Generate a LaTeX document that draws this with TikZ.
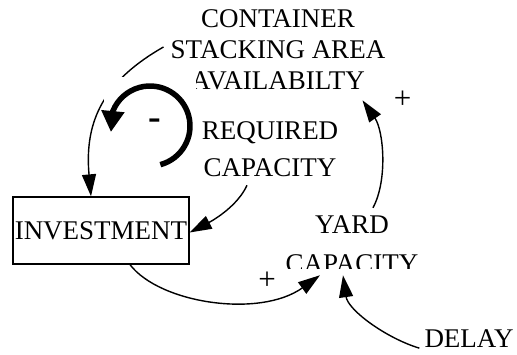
\documentclass[tikz,border=0pt]{standalone}
\usepackage{fontspec}
\setmainfont{Liberation Serif}
\usetikzlibrary{arrows.meta}

\begin{document}
\begin{tikzpicture}[x=1pt, y=-1pt,
    every node/.style={inner sep=0pt, font=\fontsize{27}{31}\selectfont},
    lien/.style={line width=1.4pt, -{Triangle[length=22pt,width=14pt]}},
    boucle/.style={line width=5.5pt, -{Triangle[length=21pt,width=22pt]}},
    signe/.style={font=\fontsize{31}{31}\selectfont}]
    \useasboundingbox (0,0) rectangle (517,354);

    % Variables
    \node[align=center] (area) at (278,50) {CONTAINER\\STACKING AREA\\AVAILABILTY};
    \node[align=center] (required) at (270,149.5) {REQUIRED\\[6pt]CAPACITY};
    \node[draw, rectangle, line width=1.3pt, minimum width=176pt, minimum height=67pt] (investment) at (101,230.5) {INVESTMENT};
    \begin{scope}
        \clip (250,200) rectangle (450,268);
        \node[align=center] (yard) at (352,244.5) {YARD\\[8pt]CAPACITY};
    \end{scope}
    \node (delay) at (469,339) {DELAY};

    % Lien vers l'investissement
    \draw[lien] ([xshift=-7pt,yshift=3pt]area.west) .. controls +(-58,33) and +(-7,-77) .. ([xshift=-10pt]investment.north);

    % Boucle négative
    \node[fill=white, minimum width=92pt, minimum height=98pt] (loop) at (150,126) {};
    \draw[boucle] ([shift={(75:40)}]loop.center) arc[start angle=75, end angle=-158, radius=40] -- ++(-2,21);
    \node[font=\fontsize{38}{38}\selectfont\bfseries] (sign) at (154.5,124) {-};

    % Autres liens
    \draw[lien] ([xshift=-23pt,yshift=-8pt]required.south) .. controls +(-9,20) and +(25,-13) .. ([yshift=-2pt]investment.east);
    \draw[lien] ([xshift=29pt]investment.south) .. controls +(30,39) and +(-60,43) .. ([xshift=-32pt,yshift=-2pt]yard.south);
    \draw[lien] ([xshift=21pt,yshift=8pt]yard.north) .. controls +(15,-28) and +(21,30) .. ([xshift=-23pt,yshift=-10pt]area.south east);
    \draw[lien] ([xshift=-5pt]delay.south west) .. controls +(-33,-10) and +(5,35) .. ([xshift=-9pt,yshift=-2pt]yard.south);

    % Polarités
    \node[signe] (plus1) at (402.5,100) {+};
    \node[signe] (plus2) at (267,281) {+};
\end{tikzpicture}
\end{document}
